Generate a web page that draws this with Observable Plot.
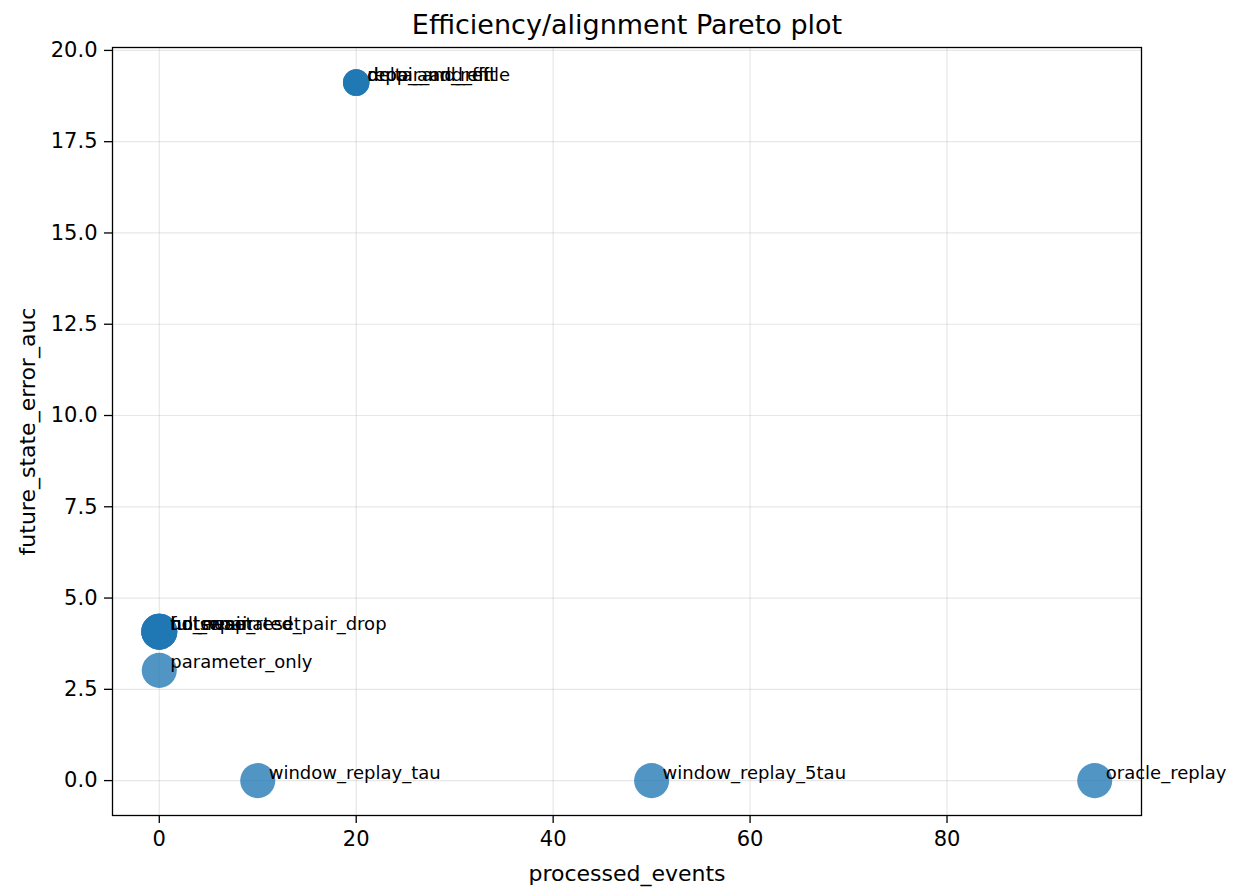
<!DOCTYPE html>
<html>
<head>
<meta charset="utf-8">
<script src="https://cdn.jsdelivr.net/npm/d3@7"></script>
<script src="https://cdn.jsdelivr.net/npm/@observablehq/plot@0.6"></script>
<style>
  html, body { margin: 0; padding: 0; background: #fff; }
  #chart svg { display: block; }
</style>
</head>
<body>
<div id="chart"></div>
<script>
// ---- data ----
const methods = [
  "drop_and_refit", "repair_and_fit", "delta_and_refile",
  "full_reset", "no_repair", "hotswap_reset", "unterminated_pair_drop",
  "parameter_only",
  "window_replay_tau", "window_replay_5tau", "oracle_replay"
];
const processedEvents = [20, 20, 20, 0, 0, 0, 0, 0, 10, 50, 95];
const futureStateErrorAuc = [19.12, 19.12, 19.12, 4.08, 4.08, 4.08, 4.08, 3.02, 0.0, 0.0, 0.0];
const markerWeight = [0.54, 0.54, 0.54, 1, 1, 1, 1, 0.95, 0.95, 0.95, 0.95];
const xTicks = [0, 20, 40, 60, 80];
const yTicks = [0, 2.5, 5, 7.5, 10, 12.5, 15, 17.5, 20];

const rows = methods.map((m, i) => ({
  method: m, x: processedEvents[i], y: futureStateErrorAuc[i], w: markerWeight[i]
}));

const font = "DejaVu Sans, Liberation Sans, sans-serif";

const chart = Plot.plot({
  width: 1237,
  height: 891,
  marginLeft: 112,
  marginRight: 96,
  marginTop: 47,
  marginBottom: 76,
  style: { fontFamily: font, fontSize: "21px", color: "#000", background: "#fff" },
  x: { domain: [-4.75, 99.75] },
  y: { domain: [-0.956, 20.08] },
  r: { type: "sqrt", domain: [0, 1], range: [0, 18] },
  marks: [
    Plot.gridX(xTicks, { stroke: "#b0b0b0", strokeOpacity: 0.3, strokeWidth: 1.2 }),
    Plot.gridY(yTicks, { stroke: "#b0b0b0", strokeOpacity: 0.3, strokeWidth: 1.2 }),
    Plot.axisX(xTicks, { tickSize: 8, tickPadding: 8, fontSize: 21, label: null, strokeWidth: 1.3 }),
    Plot.axisY(yTicks, { tickSize: 8, tickPadding: 7, fontSize: 21, label: null, tickFormat: d3.format(".1f"), strokeWidth: 1.3 }),
    Plot.dot(rows, { x: "x", y: "y", r: "w", fill: "#1f77b4", fillOpacity: 0.78, stroke: null }),
    Plot.text(rows, {
      x: "x", y: "y", text: "method", textAnchor: "start", lineAnchor: "bottom",
      dx: 11, dy: -2, fontSize: 18, fill: "#000"
    }),
    Plot.frame({ stroke: "#000", strokeWidth: 1.3 }),
    Plot.text(["Efficiency/alignment Pareto plot"], { frameAnchor: "top", dy: -14, lineAnchor: "bottom", fontSize: 27 }),
    Plot.text(["processed_events"], { frameAnchor: "bottom", dy: 58, lineAnchor: "middle", fontSize: 22 }),
    Plot.text(["future_state_error_auc"], { frameAnchor: "left", dx: -85, rotate: -90, textAnchor: "middle", lineAnchor: "middle", fontSize: 22 })
  ]
});
document.getElementById("chart").appendChild(chart);
</script>
</body>
</html>
